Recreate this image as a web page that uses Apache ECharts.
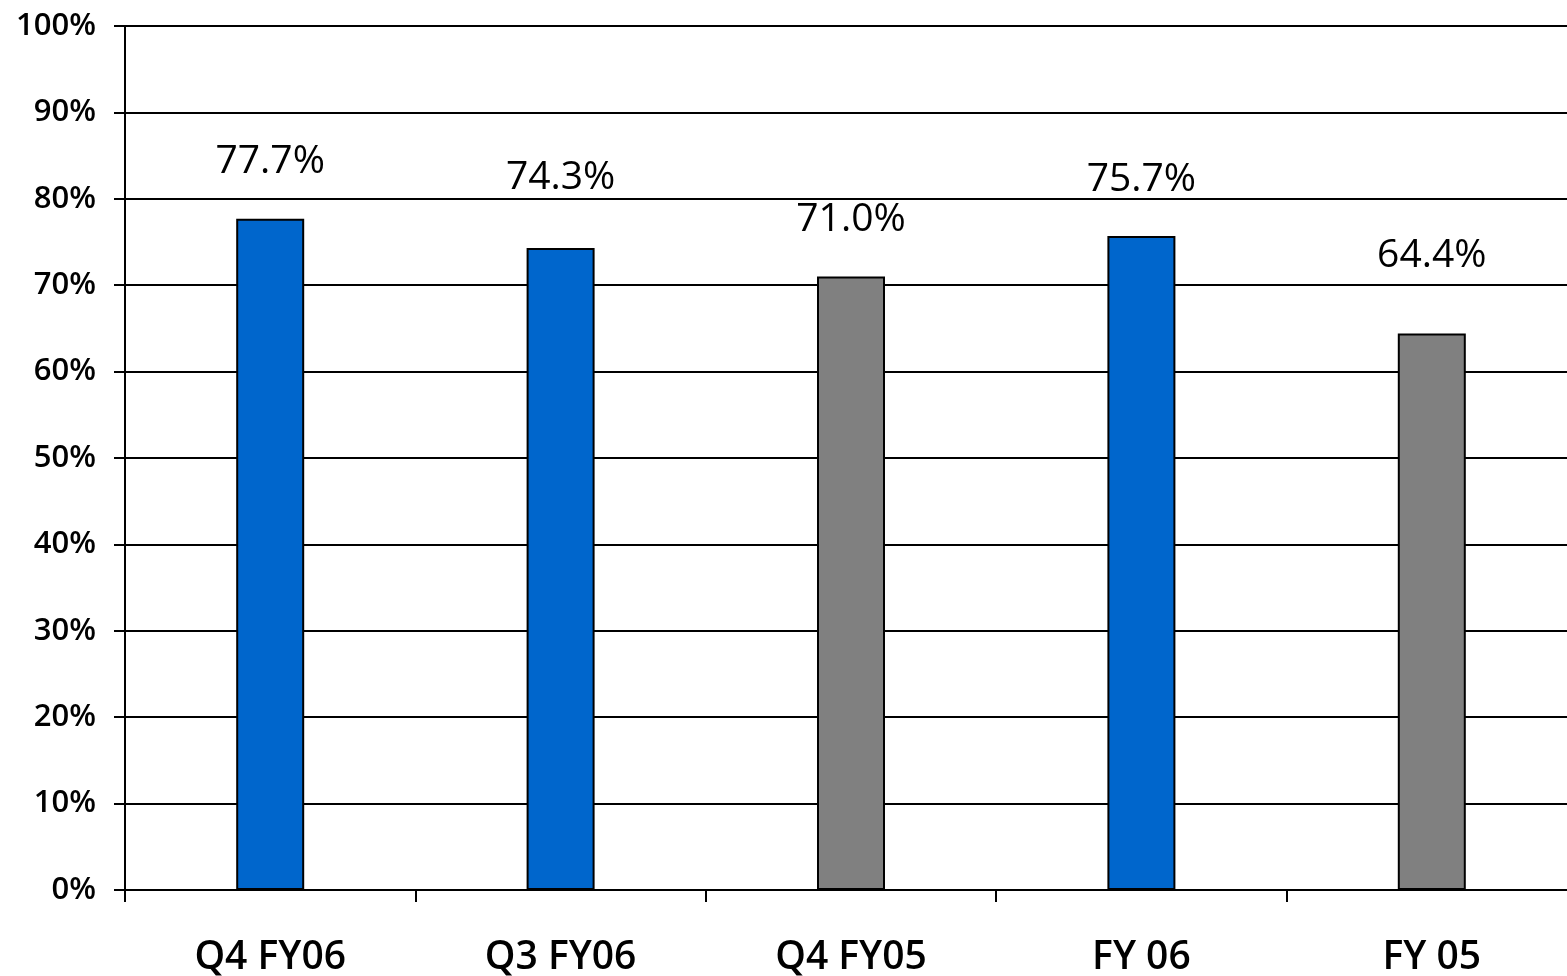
<!DOCTYPE html>
<html>
<head>
<meta charset="utf-8">
<script src="https://cdn.jsdelivr.net/npm/echarts@6/dist/echarts.min.js"></script>
<style>
  html, body { margin: 0; padding: 0; background: #fff; }
  #chart { width: 1567px; height: 976px; }
</style>
</head>
<body>
<div id="chart"></div>
<script>
// 数据
const categories = ['Q4 FY06', 'Q3 FY06', 'Q4 FY05', 'FY 06', 'FY 05']
const values = [77.7, 74.3, 71.0, 75.7, 64.4]
const barColors = ['#0066cc', '#0066cc', '#808080', '#0066cc', '#808080']
// 标签额外上移量（像素）
const labelLift = [0, 14, 0, 0, 21]

const chart = echarts.init(document.getElementById('chart'))

chart.setOption({
  animation: false,
  // 绘图区右侧略超出画布，不做自动收缩
  grid: { left: 125, right: -10, top: 26, bottom: 86, outerBoundsMode: 'none', containLabel: false },
  xAxis: {
    type: 'category',
    data: categories,
    axisLine: { lineStyle: { color: '#000', width: 2 } },
    axisTick: { show: true, length: 12, lineStyle: { color: '#000', width: 2 } },
    axisLabel: {
      color: '#000', fontFamily: 'Open Sans', fontWeight: 600,
      fontSize: 39, margin: 48
    }
  },
  yAxis: {
    type: 'value',
    min: 0,
    max: 100,
    interval: 10,
    axisLine: { show: true, lineStyle: { color: '#000', width: 2 } },
    axisTick: { show: true, length: 11, lineStyle: { color: '#000', width: 2 } },
    splitLine: { lineStyle: { color: '#000', width: 2 } },
    axisLabel: {
      color: '#000', fontFamily: 'Open Sans', fontWeight: 600,
      fontSize: 31, margin: 29, formatter: '{value}%'
    }
  },
  series: [{
    type: 'bar',
    barWidth: 68,
    data: values.map((v, i) => ({
      value: v,
      itemStyle: { color: barColors[i] },
      label: { offset: [0, -labelLift[i]] }
    })),
    itemStyle: { borderColor: '#000', borderWidth: 2 },
    label: {
      show: true,
      position: 'top',
      distance: 37,
      color: '#000',
      fontFamily: 'Open Sans',
      fontWeight: 500,
      fontSize: 39,
      formatter: p => p.value.toFixed(1) + '%'
    }
  }]
})
</script>
</body>
</html>
